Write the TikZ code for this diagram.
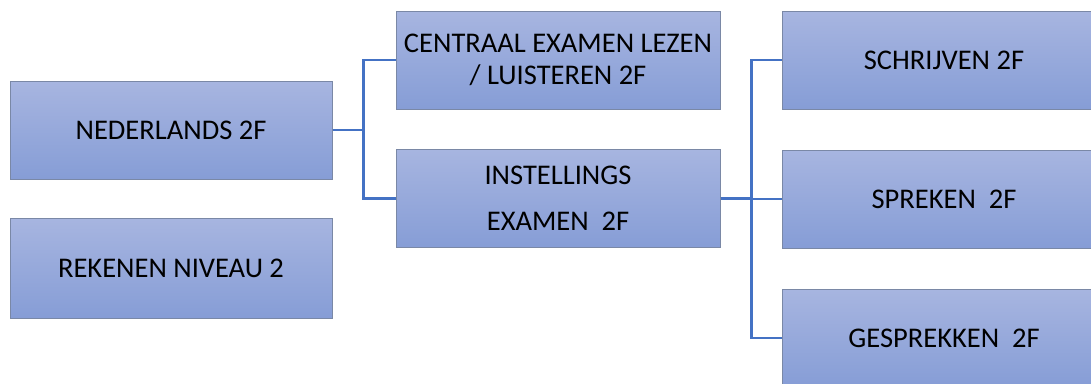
\documentclass[tikz,border=0pt]{standalone}
\usepackage{fontspec}
\setmainfont{Carlito}
\usetikzlibrary{positioning}
\definecolor{boxtop}{RGB}{167,181,224}
\definecolor{boxbot}{RGB}{134,157,214}
\definecolor{boxline}{RGB}{122,136,166}
\definecolor{conn}{RGB}{68,114,196}
\tikzset{
  box/.style={draw=boxline, line width=1pt, top color=boxtop, bottom color=boxbot,
    minimum width=322pt, minimum height=98pt, inner sep=0pt, align=center,
    font=\fontsize{28.5}{32}\selectfont, text=black},
  link/.style={draw=conn, line width=2.5pt}
}
\begin{document}
\begin{tikzpicture}[x=1pt,y=-1pt]
\useasboundingbox (0,0) rectangle (1091,383);
\clip (0,0) rectangle (1091,383);
\node[box] (ned) at (171,130) {NEDERLANDS 2F};
\node[box, minimum height=100pt] (rek) at (171,268) {REKENEN NIVEAU 2};
\node[box, minimum width=324pt] (cen) at (558,60) {CENTRAAL EXAMEN LEZEN\\/ LUISTEREN 2F};
\node[box, minimum width=324pt, font=\fontsize{28.5}{46}\selectfont] (ins) at (558,198.5) {INSTELLINGS\\EXAMEN\ \ 2F};
\node[box, minimum width=324pt] (sch) at (944,60) {SCHRIJVEN 2F};
\node[box, minimum width=324pt] (spr) at (944,199) {SPREKEN\ \ 2F};
\node[box, minimum width=324pt] (ges) at (944,338) {GESPREKKEN\ \ 2F};
\draw[link] (ned.east) -- ++(31,0) |- (cen.west);
\draw[link] (ned.east) -- ++(31,0) |- (ins.west);
\draw[link] (ins.east) -- ++(31,0) |- (sch.west);
\draw[link] (ins.east) -- ++(31,0) |- (spr.west);
\draw[link] (ins.east) -- ++(31,0) |- (ges.west);
\end{tikzpicture}
\end{document}
